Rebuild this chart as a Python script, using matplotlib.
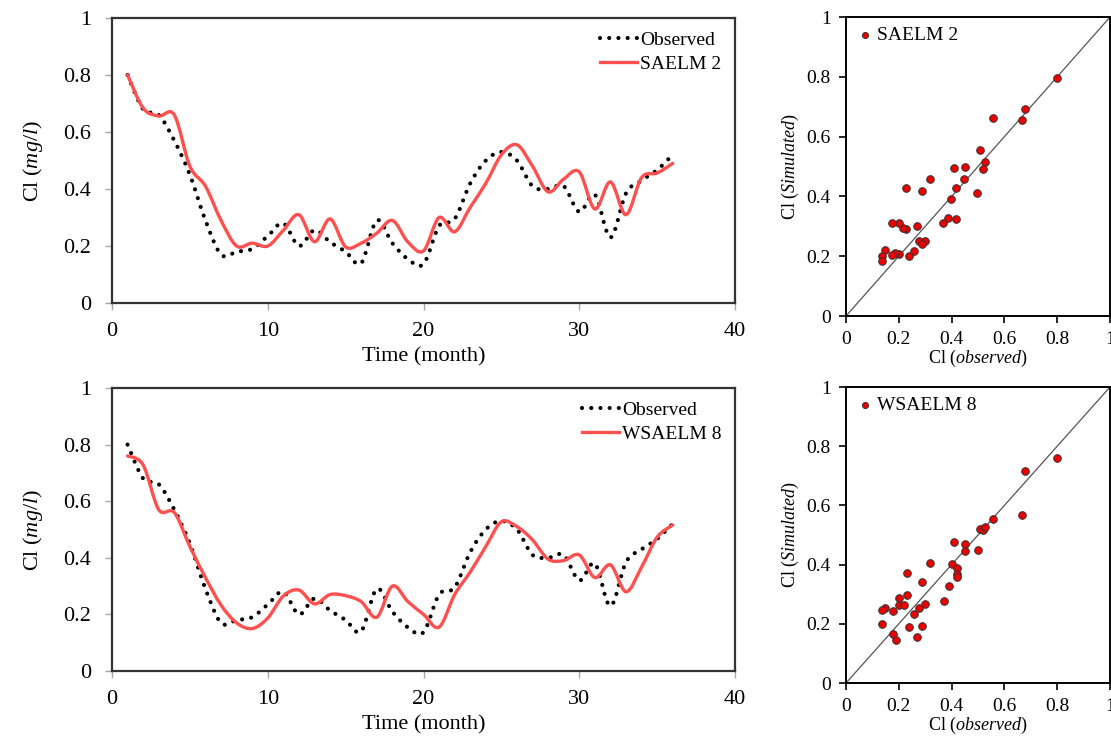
import numpy as np
import matplotlib
matplotlib.use("Agg")
import matplotlib.pyplot as plt
from matplotlib.path import Path
from matplotlib.patches import PathPatch
from matplotlib.lines import Line2D

plt.rcParams['font.family'] = ['Liberation Serif', 'DejaVu Serif']
plt.rcParams['mathtext.fontset'] = 'custom'
plt.rcParams['mathtext.rm'] = 'Liberation Serif'
plt.rcParams['mathtext.it'] = 'Liberation Serif:italic'

# ---------------- data ----------------
months = np.arange(1, 37)

observed = [0.80, 0.68, 0.66, 0.57, 0.45, 0.29, 0.17, 0.18, 0.19, 0.235,
            0.28, 0.20, 0.256, 0.214, 0.18, 0.14, 0.29, 0.21, 0.154, 0.137,
            0.27, 0.295, 0.42, 0.50, 0.53, 0.50, 0.41, 0.40, 0.41, 0.32,
            0.38, 0.23, 0.385, 0.43, 0.467, 0.52]

saelm2 = [0.80, 0.684, 0.656, 0.66, 0.48, 0.41, 0.29, 0.20, 0.21, 0.20,
          0.255, 0.31, 0.215, 0.295, 0.197, 0.21, 0.245, 0.29, 0.214, 0.183,
          0.30, 0.25, 0.336, 0.42, 0.52, 0.555, 0.48, 0.39, 0.435, 0.46,
          0.33, 0.425, 0.31, 0.44, 0.456, 0.49]

wsaelm8 = [0.76, 0.728, 0.57, 0.56, 0.44, 0.33, 0.233, 0.17, 0.15, 0.187,
           0.265, 0.286, 0.237, 0.27, 0.266, 0.245, 0.19, 0.30, 0.245, 0.20,
           0.155, 0.27, 0.35, 0.44, 0.527, 0.51, 0.463, 0.395, 0.39, 0.41,
           0.33, 0.375, 0.28, 0.367, 0.473, 0.516]

sc1_obs = [0.80, 0.678, 0.668, 0.558, 0.508, 0.527, 0.518, 0.497, 0.449, 0.448,
           0.409, 0.418, 0.399, 0.418, 0.388, 0.368, 0.317, 0.288, 0.229, 0.267,
           0.299, 0.277, 0.288, 0.258, 0.239, 0.227, 0.216, 0.199, 0.176, 0.199,
           0.187, 0.176, 0.149, 0.137, 0.137]
sc1_sim = [0.797, 0.691, 0.656, 0.661, 0.555, 0.516, 0.491, 0.413, 0.50, 0.458,
           0.495, 0.427, 0.391, 0.324, 0.328, 0.311, 0.459, 0.418, 0.429, 0.302,
           0.252, 0.252, 0.240, 0.216, 0.202, 0.291, 0.295, 0.311, 0.311, 0.206,
           0.210, 0.205, 0.221, 0.202, 0.185]

sc2_obs = [0.799, 0.678, 0.668, 0.558, 0.508, 0.519, 0.528, 0.499, 0.449, 0.449,
           0.409, 0.400, 0.419, 0.419, 0.419, 0.389, 0.370, 0.318, 0.289, 0.230,
           0.230, 0.200, 0.200, 0.220, 0.300, 0.278, 0.258, 0.177, 0.148, 0.138,
           0.138, 0.239, 0.289, 0.269, 0.177, 0.191]
sc2_sim = [0.759, 0.715, 0.569, 0.555, 0.522, 0.516, 0.526, 0.448, 0.470, 0.445,
           0.478, 0.402, 0.390, 0.369, 0.358, 0.328, 0.278, 0.407, 0.342, 0.373,
           0.297, 0.286, 0.263, 0.264, 0.266, 0.255, 0.233, 0.243, 0.253, 0.246,
           0.198, 0.189, 0.191, 0.157, 0.165, 0.147]

RED = '#ff4f4f'


def smooth_path(x, y):
    # Excel-style smoothed line: Catmull-Rom segments as cubic Bezier curves
    x = np.asarray(x, float)
    y = np.asarray(y, float)
    pts = np.column_stack([x, y])
    n = len(pts)
    verts = [pts[0]]
    codes = [Path.MOVETO]
    for i in range(n - 1):
        p0 = pts[i - 1] if i > 0 else pts[i]
        p1 = pts[i]
        p2 = pts[i + 1]
        p3 = pts[i + 2] if i + 2 < n else pts[i + 1]
        c1 = p1 + (p2 - p0) / 6.0
        c2 = p2 - (p3 - p1) / 6.0
        verts += [c1, c2, p2]
        codes += [Path.CURVE4] * 3
    return Path(verts, codes)


def time_panel(ax, sim, name):
    ax.add_patch(PathPatch(smooth_path(months, observed), fill=False,
                           edgecolor='black', lw=3.0, linestyle=(0, (0.01, 2.2)),
                           capstyle='round', zorder=3))
    ax.add_patch(PathPatch(smooth_path(months, sim), fill=False,
                           edgecolor=RED, lw=2.4, capstyle='round', zorder=4))
    ax.set_xlim(0, 40)
    ax.set_ylim(0, 1)
    ax.set_xticks([0, 10, 20, 30, 40])
    ax.set_yticks([0, 0.2, 0.4, 0.6, 0.8, 1])
    ax.set_yticklabels(['0', '0.2', '0.4', '0.6', '0.8', '1'])
    ax.tick_params(labelsize=16, length=5, width=1, color='#aaaaaa')
    ax.tick_params(axis='y', pad=10)
    ax.tick_params(axis='x', pad=9)
    for s in ax.spines.values():
        s.set_color('#333333')
        s.set_linewidth(1.6)
    ax.set_xlabel('Time (month)', fontsize=16, labelpad=4)
    ax.set_ylabel(r'Cl ($\mathit{mg/l}$)', fontsize=16, labelpad=13)
    handles = [Line2D([], [], color='black', lw=3.0, linestyle=(0, (0.01, 2.2)),
                      dash_capstyle='round'),
               Line2D([], [], color=RED, lw=2.4)]
    ax.legend(handles, ['Observed', name], loc='upper right', fontsize=14,
              frameon=False, handlelength=1.9, handletextpad=0.15,
              labelspacing=0.3, borderaxespad=0.3)


def scatter_panel(ax, xo, ys, name):
    ax.plot([0, 1], [0, 1], color='#555555', lw=0.9, zorder=2)
    ax.scatter(xo, ys, s=30, color='#ee0000', edgecolors='#333333',
               linewidths=0.7, zorder=3, label=name)
    ax.set_xlim(0, 1)
    ax.set_ylim(0, 1)
    ticks = [0, 0.2, 0.4, 0.6, 0.8, 1]
    labels = ['0', '0.2', '0.4', '0.6', '0.8', '1']
    ax.set_xticks(ticks)
    ax.set_xticklabels(labels)
    ax.set_yticks(ticks)
    ax.set_yticklabels(labels)
    ax.tick_params(labelsize=14, length=5, width=1.2, color='black', pad=6)
    for s in ax.spines.values():
        s.set_color('black')
        s.set_linewidth(1.4)
    ax.set_xlabel(r'Cl ($\mathit{observed}$)', fontsize=13, labelpad=0)
    ax.set_ylabel(r'Cl ($\mathit{Simulated}$)', fontsize=13, labelpad=4)
    ax.legend(loc='upper left', fontsize=14, frameon=False, markerscale=0.8,
              handletextpad=0.1, borderaxespad=0.2, handlelength=1.0,
              borderpad=0.3)


fig = plt.figure(figsize=(11.11, 7.38), dpi=100)
ax1 = fig.add_axes([0.1008, 0.5894, 0.5608, 0.3862])
ax2 = fig.add_axes([0.1008, 0.0908, 0.5608, 0.3835])
ax3 = fig.add_axes([0.7615, 0.5718, 0.2376, 0.4051])
ax4 = fig.add_axes([0.7615, 0.0745, 0.2376, 0.4011])

time_panel(ax1, saelm2, 'SAELM 2')
time_panel(ax2, wsaelm8, 'WSAELM 8')
scatter_panel(ax3, sc1_obs, sc1_sim, 'SAELM 2')
scatter_panel(ax4, sc2_obs, sc2_sim, 'WSAELM 8')

fig.savefig('out.png', dpi=100)
